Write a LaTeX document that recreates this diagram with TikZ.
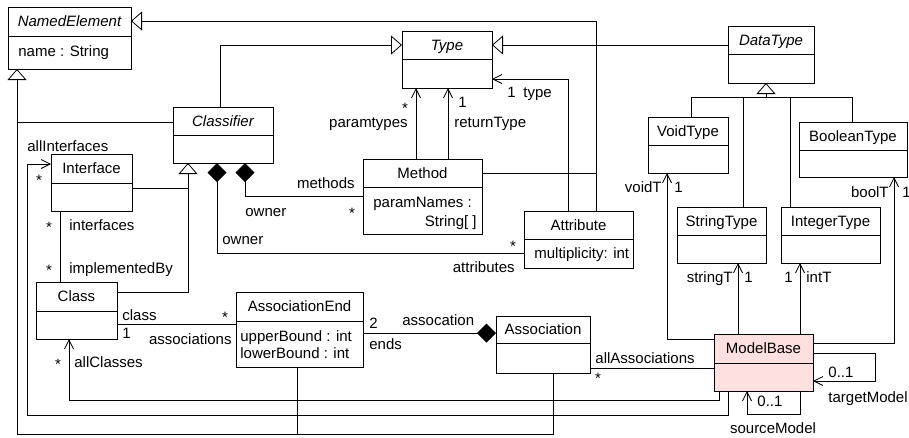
\documentclass[tikz,border=0pt]{standalone}
\usepackage{fontspec}
\setmainfont{Liberation Sans}
\usetikzlibrary{arrows.meta}
\definecolor{mbpink}{RGB}{255,224,224}
\newcommand\umlcls[8]{%
  \node[box,#8,minimum width={#4-#2},minimum height={#5-#3},anchor=north west] (#1) at (#2,#3) {};
  \draw[line width=0.8pt] (#2,#6) -- (#4,#6);
  \node[lab] (#1-t) at ({(#2+#4)/2},{(#3+#6)/2}) {#7};
}
\begin{document}
\begin{tikzpicture}[x=1pt,y=-1pt,
  line width=0.8pt,
  box/.style={draw,line width=0.8pt,inner sep=0pt,outer sep=0pt,fill=white},
  lab/.style={font=\fontsize{15}{18}\selectfont,inner sep=0pt,text height=10.7pt,text depth=0pt},
  star/.style={font=\fontsize{15}{18}\selectfont,inner sep=0pt},
  gen/.style={-{Triangle[open,length=11pt,width=19pt,fill=white,line width=0.8pt]}},
  comp/.style={-{Diamond[length=19pt,width=19pt]}},
  nav/.style={-{Straight Barb[length=9pt,width=9pt,line width=0.8pt]}}]
\useasboundingbox (0,0) rectangle (909,437);

% classes
\umlcls{ne}{8}{7}{131}{69}{36}{\itshape NamedElement}{}
\umlcls{type}{402}{31}{492}{88}{59}{\itshape Type}{}
\umlcls{dt}{728}{26}{814}{83}{54}{\itshape DataType}{}
\umlcls{clf}{173}{107}{273}{163}{135}{\itshape Classifier}{}
\umlcls{ifc}{51}{154}{132}{211}{183}{Interface}{}
\umlcls{meth}{363}{159}{482}{234}{187}{Method}{}
\umlcls{attr}{524}{211}{633}{268}{239}{Attribute}{}
\umlcls{vt}{648}{117}{728}{173}{145}{VoidType}{}
\umlcls{bt}{799}{122}{907}{177}{150}{BooleanType}{}
\umlcls{st}{677}{207}{766}{263}{235}{StringType}{}
\umlcls{it}{781}{207}{880}{263}{235}{IntegerType}{}
\umlcls{cls}{36}{282}{117}{339}{311}{Class}{}
\umlcls{ae}{236}{292}{363}{367}{321}{AssociationEnd}{}
\umlcls{asc}{496}{316}{590}{373}{343}{Association}{}
\umlcls{mb}{714}{334}{813}{391}{363}{ModelBase}{fill=mbpink}

% compartment texts
\node[lab,anchor=west] (ne-a) at (18,51) {name : String};
\node[lab,anchor=west] (meth-a) at (373,202) {paramNames :};
\node[lab,anchor=east] (meth-b) at (477,221) {String[ ]};
\node[lab,anchor=west] (attr-a) at (534,253) {multiplicity: int};
\node[lab,anchor=west] (ae-a) at (240,336) {upperBound : int};
\node[lab,anchor=west] (ae-b) at (240,353) {lowerBound : int};

% generalizations
\draw[gen] (asc.south -| 553,0) -- (553,434) -- (17,434) -- (ne.south -| 17,0);
\draw (clf.west |- 0,122) -- (17,122);
\draw (ae.south -| 297,0) -- (297,434);
\draw[gen] (attr.north -| 596,0) -- (596,21) -- (ne.east |- 0,21);
\draw (meth.east |- 0,173) -- (596,173);
\draw[gen] (clf.north -| 220,0) -- (220,45) -- (type.west |- 0,45);
\draw[gen] (dt.west |- 0,45) -- (type.east |- 0,45);
\draw[gen] (cls.east |- 0,292) -- (188,292) -- (clf.south -| 188,0);
\draw (ifc.east |- 0,188) -- (188,188);
\draw (vt.north -| 691,0) -- (691,97) -- (852,97) -- (bt.north -| 852,0);
\draw (st.north -| 743,0) -- (743,97);
\draw (it.north -| 790,0) -- (790,97);
\draw[gen] (766,97) -- (dt.south -| 766,0);

% compositions
\draw[comp] (meth.west |- 0,196) -- (245,196) -- (clf.south -| 245,0);
\draw[comp] (attr.west |- 0,253) -- (217,253) -- (clf.south -| 217,0);
\draw[comp] (ae.east |- 0,333) -- (asc.west |- 0,333);

% navigable associations
\draw[nav] (meth.north -| 416,0) -- (type.south -| 416,0);
\draw[nav] (meth.north -| 448,0) -- (type.south -| 448,0);
\draw[nav] (attr.north -| 568,0) -- (568,79) -- (type.east |- 0,79);
\draw[nav] (mb.west |- 0,339) -- (667,339) -- (vt.south -| 667,0);
\draw[nav] (mb.north -| 738,0) -- (st.south -| 738,0);
\draw[nav] (mb.north -| 800,0) -- (it.south -| 800,0);
\draw[nav] (mb.east |- 0,343) -- (894,343) -- (bt.south -| 894,0);
\draw[nav] (mb.east |- 0,353) -- (875,353) -- (875,381) -- (mb.east |- 0,381);
\draw[nav] (mb.south -| 800,0) -- (800,414) -- (747,414) -- (mb.south -| 747,0);
\draw[nav] (mb.south -| 719,0) -- (719,400) -- (69,400) -- (cls.south -| 69,0);
\draw[nav] (mb.south -| 728,0) -- (728,415) -- (27,415) -- (27,164) -- (ifc.west |- 0,164);

% plain associations
\draw (ifc.south -| 60,0) -- (cls.north -| 60,0);
\draw (cls.east |- 0,324) -- (ae.west |- 0,324);
\draw (mb.west |- 0,368) -- (asc.east |- 0,368);

% labels
\node[lab,anchor=west] (l1) at (27,146) {allInterfaces};
\node[star] (l2) at (39,180.5) {*};
\node[star] (l3) at (49,227.5) {*};
\node[lab,anchor=west] (l4) at (69,225) {interfaces};
\node[star] (l5) at (49,270.5) {*};
\node[lab,anchor=west] (l6) at (69,268) {implementedBy};
\node[lab,anchor=west] (l7) at (245,211) {owner};
\node[lab,anchor=west] (l8) at (222,239) {owner};
\node[lab,anchor=east] (l9) at (355,183) {methods};
\node[star] (l10) at (352,213.5) {*};
\node[star] (l11) at (513,246.5) {*};
\node[lab,anchor=east] (l12) at (515,267) {attributes};
\node[star] (l13) at (405,108.5) {*};
\node[lab,anchor=east] (l14) at (408,122) {paramtypes};
\node[lab,anchor=west] (l15) at (458,102) {1};
\node[lab,anchor=west] (l16) at (454,122) {returnType};
\node[lab,anchor=west] (l17) at (507,92) {1};
\node[lab,anchor=west] (l18) at (523,92) {type};
\node[lab,anchor=west] (l19) at (122,315) {class};
\node[lab,anchor=west] (l20) at (122,333) {1};
\node[star] (l21) at (225,317.5) {*};
\node[lab,anchor=east] (l22) at (232,339) {associations};
\node[lab,anchor=west] (l23) at (369,323) {2};
\node[lab,anchor=west] (l24) at (369,344) {ends};
\node[lab,anchor=west] (l25) at (402,320) {assocation};
\node[lab,anchor=west] (l26) at (595,358) {allAssociations};
\node[star] (l27) at (598,378.5) {*};
\node[star] (l28) at (58,364.5) {*};
\node[lab,anchor=west] (l29) at (74,362) {allClasses};
\node[lab,anchor=east] (l30) at (662,187) {voidT};
\node[lab,anchor=west] (l31) at (674,187) {1};
\node[lab,anchor=east] (l32) at (733,277) {stringT};
\node[lab,anchor=west] (l33) at (744,277) {1};
\node[lab,anchor=east] (l34) at (793,277) {1};
\node[lab,anchor=west] (l35) at (806,277) {intT};
\node[lab,anchor=east] (l36) at (889,192) {boolT};
\node[lab,anchor=west] (l37) at (902,192) {1};
\node[lab,anchor=west] (l38) at (828,372) {0..1};
\node[lab,anchor=west] (l39) at (828,397) {targetModel};
\node[lab,anchor=west] (l40) at (757,401) {0..1};
\node[lab] (l41) at (773,428) {sourceModel};
\end{tikzpicture}
\end{document}
